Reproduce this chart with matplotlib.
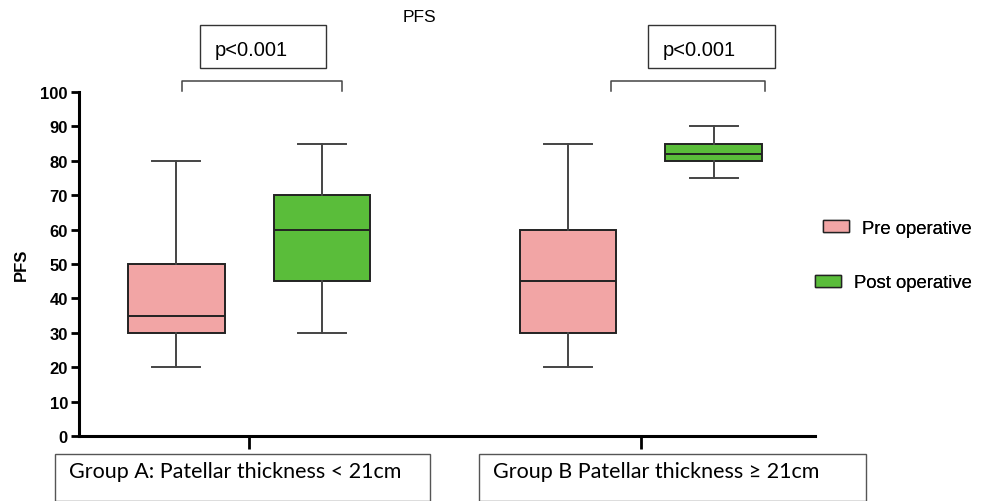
import matplotlib
matplotlib.use("Agg")
import matplotlib.pyplot as plt
from matplotlib.patches import Rectangle, Patch

# data
groups = ["Group A: Patellar thickness < 21cm", "Group B Patellar thickness \u2265 21cm"]
series = ["Pre operative", "Post operative"]
colors = ["#F2A5A5", "#5ABD3A"]
# per group: [pre, post] -> (whislo, q1, med, q3, whishi)
whislo = [[20, 30], [20, 75]]
q1 = [[30, 45], [30, 80]]
med = [[35, 60], [45, 82]]
q3 = [[50, 70], [60, 85]]
whishi = [[80, 85], [85, 90]]
pvals = ["p<0.001", "p<0.001"]
yticks = list(range(0, 101, 10))

W, H = 984, 502
fig = plt.figure(figsize=(W / 100, H / 100), dpi=100)
plt.rcParams['font.family'] = ['Liberation Sans', 'DejaVu Sans']


def fx(px):
    return px / W


def fy(py):
    return 1 - py / H


ax = fig.add_axes([fx(79), fy(437), fx(815 - 79), (437 - 93) / H])

gpos = [1, 2]
offs = [-0.186, 0.186]
bw = 0.247
for gi, g in enumerate(gpos):
    for si in range(2):
        st = [dict(whislo=whislo[gi][si], q1=q1[gi][si], med=med[gi][si],
                   q3=q3[gi][si], whishi=whishi[gi][si], fliers=[])]
        ax.bxp(st, positions=[g + offs[si]], widths=bw, patch_artist=True,
               showfliers=False,
               boxprops=dict(facecolor=colors[si], edgecolor="#222222", linewidth=1.4),
               medianprops=dict(color="#222222", linewidth=1.4),
               whiskerprops=dict(color="#444444", linewidth=1.4),
               capprops=dict(color="#444444", linewidth=1.4),
               capwidths=bw / 2, manage_ticks=False)

ax.set_xlim(0.566, 2.444)
ax.set_ylim(0, 100)
ax.set_yticks(yticks)
ax.set_xticks(gpos)
ax.set_xticklabels([])
for lab in ax.get_yticklabels():
    lab.set_fontweight("bold")
ax.tick_params(axis="y", labelsize=12, length=6, width=2, pad=2)
ax.tick_params(axis="x", length=9, width=2)
for s in ["top", "right"]:
    ax.spines[s].set_visible(False)
for s in ["left", "bottom"]:
    ax.spines[s].set_linewidth(2.2)
ax.set_ylabel("PFS", fontsize=12, fontweight="bold", labelpad=8)

# significance brackets (x spans in data units) and p-value boxes
brackets = [(0.829, 1.237), (1.923, 2.316)]
for xl, xr in brackets:
    ax.plot([xl, xl, xr, xr], [100.2, 103.2, 103.2, 100.2], color="#444444",
            lw=1.1, clip_on=False)
bx = [(200, 326), (648, 775)]
for (l, r), p in zip(bx, pvals):
    fig.patches.append(Rectangle((fx(l), fy(69)), fx(r - l), (69 - 26) / H,
                                 transform=fig.transFigure, fill=False,
                                 edgecolor="#333333", lw=1.0))
    fig.text(fx(l + 15), fy(51), p, fontsize=14.5, va="center", ha="left")

fig.text(fx(419), fy(17), "PFS", fontsize=12.5, ha="center", va="center")

# group label boxes
gb = [(55, 430), (479, 866)]
for (l, r), name in zip(gb, groups):
    fig.patches.append(Rectangle((fx(l), 0), fx(r - l), fy(455),
                                 transform=fig.transFigure, fill=False,
                                 edgecolor="#555555", lw=1.0))
    fig.text(fx(l + 14), fy(472), name, fontsize=15.5, ha="left", va="center",
             family=["Lato", "DejaVu Sans"])

# legend entries, slightly staggered as in the original
anchors = [(823, 229), (815, 284)]
for (lx, ly), c, name in zip(anchors, colors, series):
    leg = fig.legend([Patch(facecolor=c, edgecolor="#222222", lw=1.0)], [name],
                     loc="center left", bbox_to_anchor=(fx(lx), fy(ly)),
                     frameon=False, fontsize=13.3, handlelength=1.4,
                     handleheight=0.6, handletextpad=0.7, borderpad=0,
                     borderaxespad=0)
    fig.add_artist(leg)

fig.savefig("out.png", dpi=100)
